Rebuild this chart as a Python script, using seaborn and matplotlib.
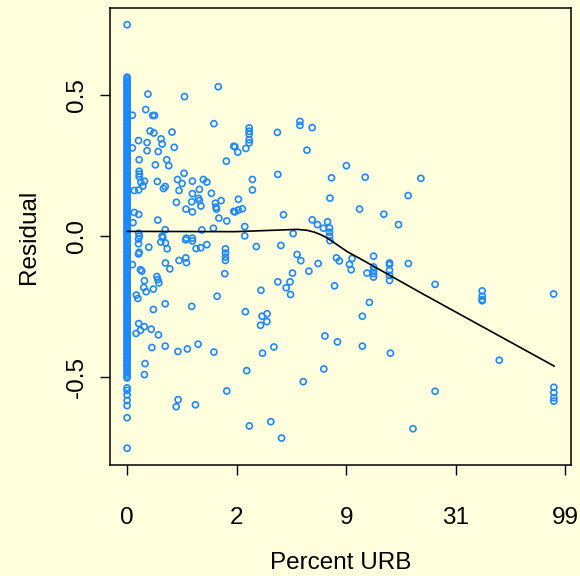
import numpy as np
import pandas as pd
import matplotlib
matplotlib.use("Agg")
import matplotlib.pyplot as plt
import seaborn as sns

# x is log10(1 + percent URB); residuals of the fitted model
# Counties with 0 % URB (all stacked at x = 0)
zero_urb_resid = [
    0.751, 0.565, 0.559, 0.552, 0.546, 0.541, 0.533, 0.527, 0.522, 0.514, 0.508,
    0.503, 0.497, 0.489, 0.484, 0.478, 0.471, 0.466, 0.458, 0.452, 0.447, 0.441,
    0.433, 0.428, 0.421, 0.416, 0.409, 0.403, 0.396, 0.390, 0.385, 0.377, 0.372,
    0.365, 0.358, 0.353, 0.347, 0.340, 0.334, 0.328, 0.322, 0.314, 0.309, 0.303,
    0.297, 0.290, 0.284, 0.278, 0.271, 0.266, 0.259, 0.252, 0.247, 0.240, 0.234,
    0.229, 0.221, 0.216, 0.208, 0.203, 0.197, 0.190, 0.185, 0.177, 0.171, 0.166,
    0.159, 0.152, 0.147, 0.140, 0.134, 0.127, 0.122, 0.115, 0.109, 0.103, 0.096,
    0.091, 0.084, 0.077, 0.072, 0.065, 0.060, 0.052, 0.047, 0.040, 0.034, 0.029,
    0.021, 0.016, 0.009, 0.003, -0.003, -0.011, -0.016, -0.023, -0.028, -0.035,
    -0.042, -0.047, -0.054, -0.059, -0.066, -0.073, -0.078, -0.085, -0.090,
    -0.097, -0.104, -0.109, -0.116, -0.122, -0.128, -0.135, -0.140, -0.147,
    -0.153, -0.159, -0.166, -0.171, -0.178, -0.184, -0.191, -0.196, -0.203,
    -0.209, -0.215, -0.222, -0.228, -0.234, -0.241, -0.246, -0.253, -0.259,
    -0.265, -0.272, -0.278, -0.284, -0.291, -0.297, -0.303, -0.309, -0.316,
    -0.322, -0.328, -0.335, -0.341, -0.347, -0.353, -0.360, -0.366, -0.372,
    -0.379, -0.386, -0.392, -0.398, -0.405, -0.411, -0.418, -0.424, -0.431,
    -0.438, -0.444, -0.451, -0.458, -0.466, -0.473, -0.481, -0.489, -0.497,
    -0.502, -0.537, -0.546, -0.562, -0.582, -0.600, -0.643, -0.751,
]

# Counties with some URB population
urb_log = [
    0.095, 0.262, 0.416, 0.085, 0.117, 0.125, 0.024, 0.396, 0.105, 0.122,
    0.205, 0.155, 0.160, 0.052, 0.091, 0.215, 0.024, 0.091, 0.142, 0.487,
    0.055, 0.181, 0.190, 0.453, 0.129, 0.055, 0.056, 0.055, 0.079, 0.063,
    0.053, 0.033, 0.072, 0.138, 0.260, 0.230, 0.251, 0.237, 0.298, 0.348,
    0.364, 0.166, 0.174, 0.298, 0.330, 0.385, 0.225, 0.295, 0.326, 0.330,
    0.337, 0.269, 0.298, 0.403, 0.406, 0.408, 0.429, 0.487, 0.419, 0.455,
    0.033, 0.053, 0.140, 0.027, 0.174, 0.341, 0.394, 0.053, 0.056, 0.160,
    0.271, 0.298, 0.052, 0.052, 0.055, 0.052, 0.099, 0.163, 0.154, 0.175,
    0.183, 0.267, 0.298, 0.364, 0.336, 0.315, 0.449, 0.449, 0.449, 0.449,
    0.446, 0.024, 0.061, 0.067, 0.175, 0.195, 0.237, 0.268, 0.271, 0.136,
    0.140, 0.145, 0.079, 0.076, 0.087, 0.120, 0.042, 0.049, 0.411, 0.120,
    0.174, 0.295, 0.053, 0.078, 0.061, 0.041, 0.110, 0.143, 0.113, 0.174,
    0.232, 0.275, 0.324, 0.396, 0.082, 0.079, 0.455, 0.233, 0.224, 0.312,
    0.557, 0.557, 0.557, 0.557, 0.557, 0.492, 0.505, 0.542, 0.686, 0.789,
    0.789, 0.845, 0.821, 1.001, 0.688, 0.572, 0.572, 0.933, 0.926, 0.508,
    0.492, 0.508, 0.526, 0.714, 0.845, 0.869, 0.896, 0.915, 0.924, 0.924,
    0.924, 0.537, 0.758, 0.537, 0.926, 0.590, 0.702, 0.776, 0.793, 0.872,
    0.830, 0.755, 0.956, 0.969, 1.015, 1.023, 1.027, 0.688, 0.744, 0.726,
    0.746, 0.611, 0.947, 0.540, 0.616, 0.639, 0.638, 0.609, 0.903, 0.960,
    0.670, 0.618, 0.546, 0.898, 0.804, 0.558, 0.656, 0.705, 1.087, 1.341,
    1.283, 1.061, 1.172, 1.239, 1.125, 1.095, 1.125, 1.125, 1.125, 1.125,
    1.198, 1.198, 1.198, 1.198, 1.198, 1.284, 1.406, 1.621, 1.621, 1.621,
    1.621, 1.947, 1.106, 1.074, 1.074, 1.202, 1.699, 1.406, 1.948, 1.948,
    1.948, 1.948, 1.305,
]
urb_resid = [
    0.505, 0.496, 0.531, 0.450, 0.429, 0.429, 0.430, 0.400, 0.374, 0.367,
    0.370, 0.346, 0.328, 0.340, 0.333, 0.316, 0.314, 0.304, 0.301, 0.320,
    0.272, 0.272, 0.251, 0.267, 0.254, 0.231, 0.221, 0.212, 0.196, 0.192,
    0.165, 0.163, 0.179, 0.195, 0.224, 0.202, 0.188, 0.163, 0.196, 0.202,
    0.193, 0.170, 0.177, 0.152, 0.167, 0.153, 0.121, 0.123, 0.135, 0.127,
    0.108, 0.097, 0.087, 0.118, 0.104, 0.097, 0.127, 0.089, 0.065, 0.055,
    0.085, 0.078, 0.058, 0.049, 0.024, 0.023, 0.029, 0.011, 0.001, 0.001,
    -0.006, -0.006, -0.009, -0.026, -0.056, -0.062, -0.038, -0.004, -0.020, -0.023,
    -0.044, -0.012, -0.016, -0.029, -0.040, -0.043, -0.044, -0.059, -0.073, -0.085,
    -0.132, -0.100, -0.118, -0.123, -0.094, -0.115, -0.085, -0.076, -0.093, -0.142,
    -0.153, -0.165, -0.157, -0.181, -0.196, -0.187, -0.208, -0.220, -0.212, -0.259,
    -0.239, -0.248, -0.309, -0.320, -0.333, -0.344, -0.329, -0.349, -0.394, -0.389,
    -0.408, -0.399, -0.382, -0.410, -0.451, -0.490, -0.548, -0.579, -0.604, -0.597,
    0.385, 0.373, 0.363, 0.343, 0.332, 0.318, 0.299, 0.312, 0.369, 0.408,
    0.394, 0.386, 0.306, 0.251, 0.220, 0.202, 0.165, 0.208, 0.136, 0.132,
    0.087, 0.094, 0.098, 0.077, 0.059, 0.042, 0.029, 0.052, 0.030, 0.015,
    0.001, 0.035, 0.010, 0.002, -0.015, -0.036, -0.032, -0.064, -0.086, -0.096,
    -0.123, -0.130, -0.076, -0.087, -0.099, -0.118, -0.078, -0.161, -0.161, -0.182,
    -0.206, -0.191, -0.175, -0.267, -0.283, -0.274, -0.302, -0.315, -0.353, -0.374,
    -0.392, -0.414, -0.476, -0.470, -0.515, -0.672, -0.657, -0.715, 0.210, 0.206,
    0.145, 0.097, 0.079, 0.042, -0.070, -0.130, -0.108, -0.120, -0.132, -0.144,
    -0.094, -0.100, -0.120, -0.138, -0.156, -0.096, -0.170, -0.193, -0.212, -0.224,
    -0.228, -0.204, -0.234, -0.283, -0.389, -0.414, -0.439, -0.549, -0.535, -0.554,
    -0.572, -0.584, -0.682,
]

# Scatterplot smoother through the residuals
smooth_x = [0.0, 0.493, 0.776, 0.820, 0.856, 0.885, 0.912, 0.945, 0.975, 1.005, 1.064, 1.347, 1.950]
smooth_y = [0.018, 0.017, 0.025, 0.022, 0.015, 0.006, -0.005, -0.022, -0.038, -0.054, -0.079, -0.2025, -0.460]

# Axis ticks: positions on the log scale, labelled in percent
tick_pos = [0.0, 0.5, 1.0, 1.5, 2.0]
tick_lab = [str(int(round(10 ** p - 1))) for p in tick_pos]

bg = "#FFFFDD"
pt_color = "#1E88FF"

sns.set_theme(style="ticks")
plt.rcParams["font.family"] = ["Liberation Sans", "DejaVu Sans"]

df = pd.DataFrame({
    "x": [0.0] * len(zero_urb_resid) + urb_log,
    "resid": zero_urb_resid + urb_resid,
})
smooth = pd.DataFrame({"x": smooth_x, "y": smooth_y})

fig = plt.figure(figsize=(5.8, 5.76), dpi=100, facecolor=bg)
ax = fig.add_axes([0.1897, 0.193, 0.795, 0.793])
ax.set_facecolor(bg)

sns.scatterplot(data=df, x="x", y="resid", ax=ax, marker="o", s=19,
                facecolor="none", edgecolor=pt_color, linewidth=1.2,
                legend=False, zorder=2)
sns.lineplot(data=smooth, x="x", y="y", ax=ax, color="black", linewidth=1.2,
             sort=False, estimator=None, zorder=3)

ax.set_xlim(-0.078, 2.027)
ax.set_ylim(-0.81, 0.81)
ax.set_xticks(tick_pos)
ax.set_xticklabels(tick_lab)
ax.set_yticks([-0.5, 0.0, 0.5])
ax.set_yticklabels(["-0.5", "0.0", "0.5"], rotation=90, va="center")

for side in ["top", "right", "bottom", "left"]:
    ax.spines[side].set_visible(True)
    ax.spines[side].set_color("black")
    ax.spines[side].set_linewidth(1.1)

ax.tick_params(axis="x", length=7.2, width=1.0, pad=23, labelsize=17.5, colors="black")
ax.tick_params(axis="y", length=7.2, width=1.0, pad=9, labelsize=17.5, colors="black")

ax.set_xlabel("Percent URB", fontsize=17.5, color="black")
ax.set_ylabel("Residual", fontsize=17.5, color="black")
ax.xaxis.set_label_coords(0.5, -0.19)
ax.yaxis.set_label_coords(-0.152, 0.5)

fig.savefig("out.png", dpi=100, facecolor=bg)
